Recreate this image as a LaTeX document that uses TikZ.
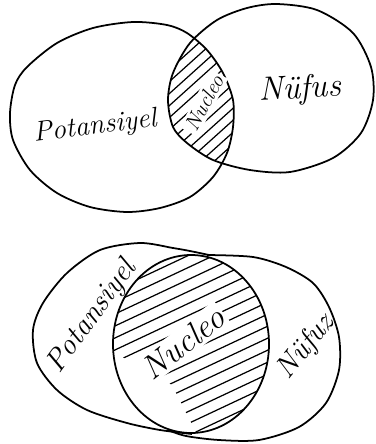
\documentclass[tikz,border=0pt]{standalone}
\usepackage{tikz}

% outlines of the hand drawn sets (pixel units)
\newcommand{\potTopPath}{plot[smooth cycle] coordinates {(10,113) (15,85) (27,67) (57,43) (93,28) (133,22) (167,25) (187,33) (207,50) (223,73) (233,100) (233,127) (227,153) (213,177) (190,197) (160,208) (127,212) (90,207) (57,193) (30,170) (13,140)}}
\newcommand{\nufTopPath}{plot[smooth cycle] coordinates {(168,100) (173,73) (190,43) (217,20) (247,8) (277,4) (317,10) (353,33) (371,67) (373,100) (361,133) (333,158) (290,172) (250,170) (213,160) (187,143) (173,127)}}

\begin{document}
\begin{tikzpicture}[
    x=0.02cm, y=-0.02cm,
    outline/.style={line width=1pt, black},
    hatch/.style={line width=0.7pt, black},
    hand/.style={font=\itshape, inner sep=1pt},
    cover/.style={fill=white, inner sep=1.5pt}
]
\useasboundingbox (0,0) rectangle (376,444);

% Upper picture: partial overlap
\draw[outline] \potTopPath;
\draw[outline] \nufTopPath;
\begin{scope}
    \clip \potTopPath;
    \clip \nufTopPath;
    \foreach \c in {60,72,...,330} {
        \draw[hatch] (140,\c) -- ++(110,-99);
    }
\end{scope}
\node[hand, font=\itshape\fontsize{16}{18}\selectfont, rotate=7] (potTop) at (95,127) {Potansiyel};
\node[hand, font=\itshape\fontsize{19}{21}\selectfont, rotate=3] (nufTop) at (300,90) {Nüfus};
\node[hand, cover, font=\itshape\fontsize{12}{13}\selectfont, rotate=62] (nucTop) at (204,103) {Nucleo};

% Lower picture: the core inside both sets
\draw[outline] plot[smooth] coordinates {(209,255) (190,251) (173,248) (140,243) (100,250) (67,273) (43,303) (33,330) (37,363) (57,390) (87,410) (127,423) (160,430) (192,434)};
\draw[outline] plot[smooth] coordinates {(207,255) (253,257) (286,267) (313,283) (329,307) (339,337) (339,370) (326,403) (299,427) (259,440) (219,440) (186,436) (168,430)};
\draw[outline] (191,344) ellipse [x radius=78, y radius=89];
\begin{scope}
    \clip (191,344) ellipse [x radius=78, y radius=89];
    \clip (90,240) -- (300,240) -- (300,450) -- (205,450) -- (172,385) -- (135,362) -- (90,345) -- cycle;
    \foreach \c in {285,297,...,545} {
        \draw[hatch] (100,\c) -- ++(200,-94);
    }
\end{scope}
\node[hand, font=\itshape\fontsize{17}{19}\selectfont, rotate=54] (potBot) at (92,317) {Potansiyel};
\node[hand, cover, font=\itshape\fontsize{19}{21}\selectfont, rotate=38] (nucBot) at (183,343) {Nucleo};
\node[hand, font=\itshape\fontsize{17}{19}\selectfont, rotate=51] (nufBot) at (306,347) {Nüfuz};

\end{tikzpicture}
\end{document}
